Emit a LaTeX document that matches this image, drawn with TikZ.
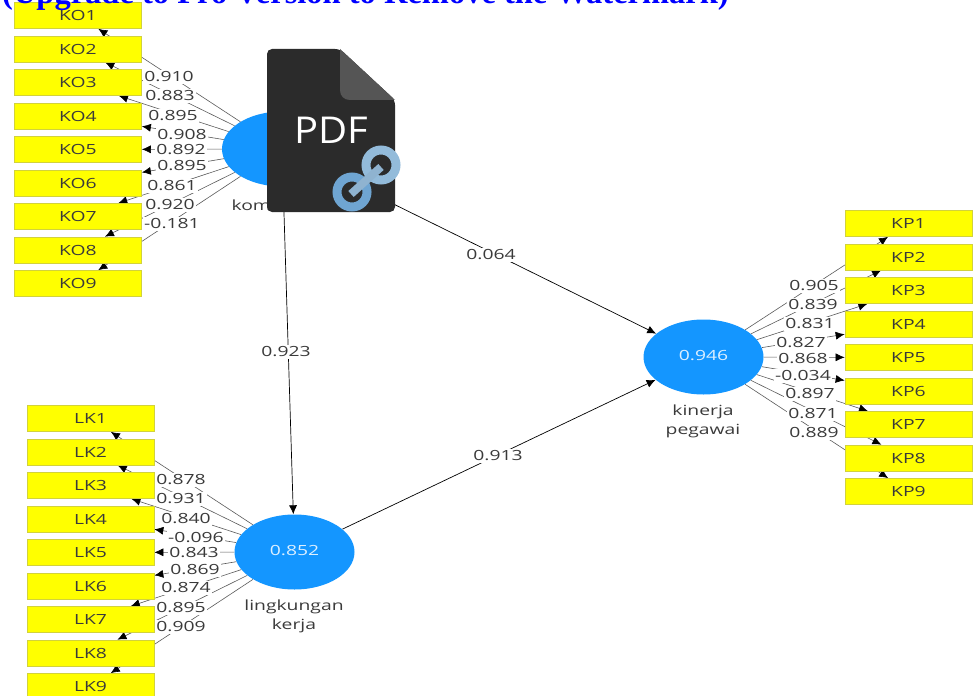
\documentclass[tikz,border=0pt]{standalone}
\usepackage{fontspec}
\setmainfont[FakeStretch=1.38]{Open Sans}
\newfontfamily\iconfont[FakeStretch=1.08]{Open Sans}
\newfontfamily\markfont{Liberation Serif}
\usetikzlibrary{arrows.meta,shapes.geometric,backgrounds}
\definecolor{plsblue}{HTML}{1496FF}
\definecolor{plsyellow}{HTML}{FFFF00}
\definecolor{plsedge}{HTML}{D2D23C}
\definecolor{plstext}{HTML}{3A3A3A}
\definecolor{plsgray}{HTML}{5A5A5A}
\definecolor{docdark}{HTML}{2B2B2B}
\definecolor{docfold}{HTML}{555555}
\definecolor{ringtop}{HTML}{93BBDA}
\definecolor{ringlow}{HTML}{6FA5D2}
\definecolor{ringbar}{HTML}{8FB3D0}
\definecolor{markblue}{HTML}{0000FF}
\tikzset{
  >={Latex[length=9pt,width=8pt,color=black]},
  indicator/.style={draw=plsedge,fill=plsyellow,line width=0.7pt,minimum width=127pt,minimum height=26pt,inner sep=0pt,font=\fontsize{14}{14}\selectfont,text=plstext},
  construct/.style={ellipse,fill=plsblue,minimum width=120pt,minimum height=75pt,inner sep=0pt,font=\fontsize{14}{14}\selectfont,text=white!85!plsblue},
  loading/.style={fill=white,inner sep=1.5pt,font=\fontsize{14}{14}\selectfont,text=plstext},
  caption/.style={align=center,font=\fontsize{14}{19}\selectfont,text=plstext},
  outer/.style={->,draw=plsgray,line width=0.6pt},
  inner/.style={->,draw=black,line width=0.7pt}
}
\begin{document}
\begin{tikzpicture}[x=1pt,y=-1pt]
  \useasboundingbox (0,0) rectangle (973,695);
  \clip (0,0) rectangle (973,695);
  \node[construct] (ko) at (282.0,149.0) {};
  \node[construct] (lk) at (294.5,552.0) {\raisebox{3pt}{0.852}};
  \node[construct] (kp) at (703.5,357.0) {\raisebox{3pt}{0.946}};
  \node[caption,anchor=west] (kocap) at (228,205) {kom};
  \node[caption] (lkcap) at (294,616) {lingkungan\\kerja};
  \node[caption] (kpcap) at (703,421.5) {kinerja\\pegawai};
  % left block, top
  \node[indicator] (KO1) at (78, 15.5) {KO1};
  \node[indicator] (KO2) at (78, 49.0) {KO2};
  \node[indicator] (KO3) at (78, 82.5) {KO3};
  \node[indicator] (KO4) at (78,116.0) {KO4};
  \node[indicator] (KO5) at (78,149.5) {KO5};
  \node[indicator] (KO6) at (78,183.0) {KO6};
  \node[indicator] (KO7) at (78,216.5) {KO7};
  \node[indicator] (KO8) at (78,250.0) {KO8};
  \node[indicator] (KO9) at (78,283.5) {KO9};
  % left block, bottom
  \node[indicator] (LK1) at (90.5,418.5) {LK1};
  \node[indicator] (LK2) at (90.5,452.0) {LK2};
  \node[indicator] (LK3) at (90.5,485.5) {LK3};
  \node[indicator] (LK4) at (90.5,519.0) {LK4};
  \node[indicator] (LK5) at (90.5,552.5) {LK5};
  \node[indicator] (LK6) at (90.5,586.0) {LK6};
  \node[indicator] (LK7) at (90.5,619.5) {LK7};
  \node[indicator] (LK8) at (90.5,653.0) {LK8};
  \node[indicator] (LK9) at (90.5,686.5) {LK9};
  % right block
  \node[indicator] (KP1) at (908.5,223.5) {KP1};
  \node[indicator] (KP2) at (908.5,257.0) {KP2};
  \node[indicator] (KP3) at (908.5,290.5) {KP3};
  \node[indicator] (KP4) at (908.5,324.0) {KP4};
  \node[indicator] (KP5) at (908.5,357.5) {KP5};
  \node[indicator] (KP6) at (908.5,391.0) {KP6};
  \node[indicator] (KP7) at (908.5,424.5) {KP7};
  \node[indicator] (KP8) at (908.5,458.0) {KP8};
  \node[indicator] (KP9) at (908.5,491.5) {KP9};
  \begin{pgfonlayer}{background}
    \draw[outer] (ko) -- (KO1);
    \draw[outer] (ko) -- (KO2);
    \draw[outer] (ko) -- (KO3);
    \draw[outer] (ko) -- (KO4);
    \draw[outer] (ko) -- (KO5);
    \draw[outer] (ko) -- (KO6);
    \draw[outer] (ko) -- (KO7);
    \draw[outer] (ko) -- (KO8);
    \draw[outer] (ko) -- (KO9);
    \draw[outer] (lk) -- (LK1);
    \draw[outer] (lk) -- (LK2);
    \draw[outer] (lk) -- (LK3);
    \draw[outer] (lk) -- (LK4);
    \draw[outer] (lk) -- (LK5);
    \draw[outer] (lk) -- (LK6);
    \draw[outer] (lk) -- (LK7);
    \draw[outer] (lk) -- (LK8);
    \draw[outer] (lk) -- (LK9);
    \draw[outer] (kp) -- (KP1);
    \draw[outer] (kp) -- (KP2);
    \draw[outer] (kp) -- (KP3);
    \draw[outer] (kp) -- (KP4);
    \draw[outer] (kp) -- (KP5);
    \draw[outer] (kp) -- (KP6);
    \draw[outer] (kp) -- (KP7);
    \draw[outer] (kp) -- (KP8);
    \draw[outer] (kp) -- (KP9);
    \draw[inner] (ko) -- (lk);
    \draw[inner] (ko) -- (kp);
    \draw[inner] (lk) -- (kp);
  \end{pgfonlayer}
  % loadings
  \node[loading] (a1) at (169, 77) {0.910};
  \node[loading] (a2) at (170, 96) {0.883};
  \node[loading] (a3) at (173,116) {0.895};
  \node[loading] (a4) at (182,135) {0.908};
  \node[loading] (a5) at (181,150) {0.892};
  \node[loading] (a6) at (182,166) {0.895};
  \node[loading] (a7) at (172,186) {0.861};
  \node[loading] (a8) at (170,205) {0.920};
  \node[loading] (a9) at (172,224) {-0.181};
  \node[loading] (b1) at (181,480) {0.878};
  \node[loading] (b2) at (181,499) {0.931};
  \node[loading] (b3) at (186,519) {0.840};
  \node[loading] (b4) at (196,538) {-0.096};
  \node[loading] (b5) at (194,553) {0.843};
  \node[loading] (b6) at (195,570) {0.869};
  \node[loading] (b7) at (186,588) {0.874};
  \node[loading] (b8) at (181,608) {0.895};
  \node[loading] (b9) at (181,627) {0.909};
  \node[loading] (c1) at (814,286) {0.905};
  \node[loading] (c2) at (813,305) {0.839};
  \node[loading] (c3) at (810,324) {0.831};
  \node[loading] (c4) at (801,343) {0.827};
  \node[loading] (c5) at (803,359) {0.868};
  \node[loading] (c6) at (803,376) {-0.034};
  \node[loading] (c7) at (810,394) {0.897};
  \node[loading] (c8) at (813,414) {0.871};
  \node[loading] (c9) at (814,433) {0.889};
  \node[loading] (p1) at (286,352) {0.923};
  \node[loading] (p2) at (491,255) {0.064};
  \node[loading] (p3) at (498,456) {0.913};
  % file icon
  \fill[docdark,rounded corners=5pt] (267,49) -- (340,49) -- (395,100) -- (395,212) -- (267,212) -- cycle;
  \fill[docfold] (340,49) -- (395,100) -- (350,100) .. controls (344,100) and (340,96) .. (340,90) -- cycle;
  \node[text=white,inner sep=0pt,font=\iconfont\fontsize{37}{37}\selectfont] (pdf) at (331,130) {PDF};
  \draw[ringtop,line width=9pt] (381,165) circle(15);
  \draw[ringlow,line width=9pt] (352,192) circle(15);
  \draw[ringbar,line width=8pt] (351,194) -- (381,167);
  % watermark
  \node[anchor=base west,inner sep=0pt,text=markblue,font=\markfont\bfseries\fontsize{32.5}{32.5}\selectfont] (mark) at (2,4) {(Upgrade to Pro Version to Remove the Watermark)};
\end{tikzpicture}
\end{document}
